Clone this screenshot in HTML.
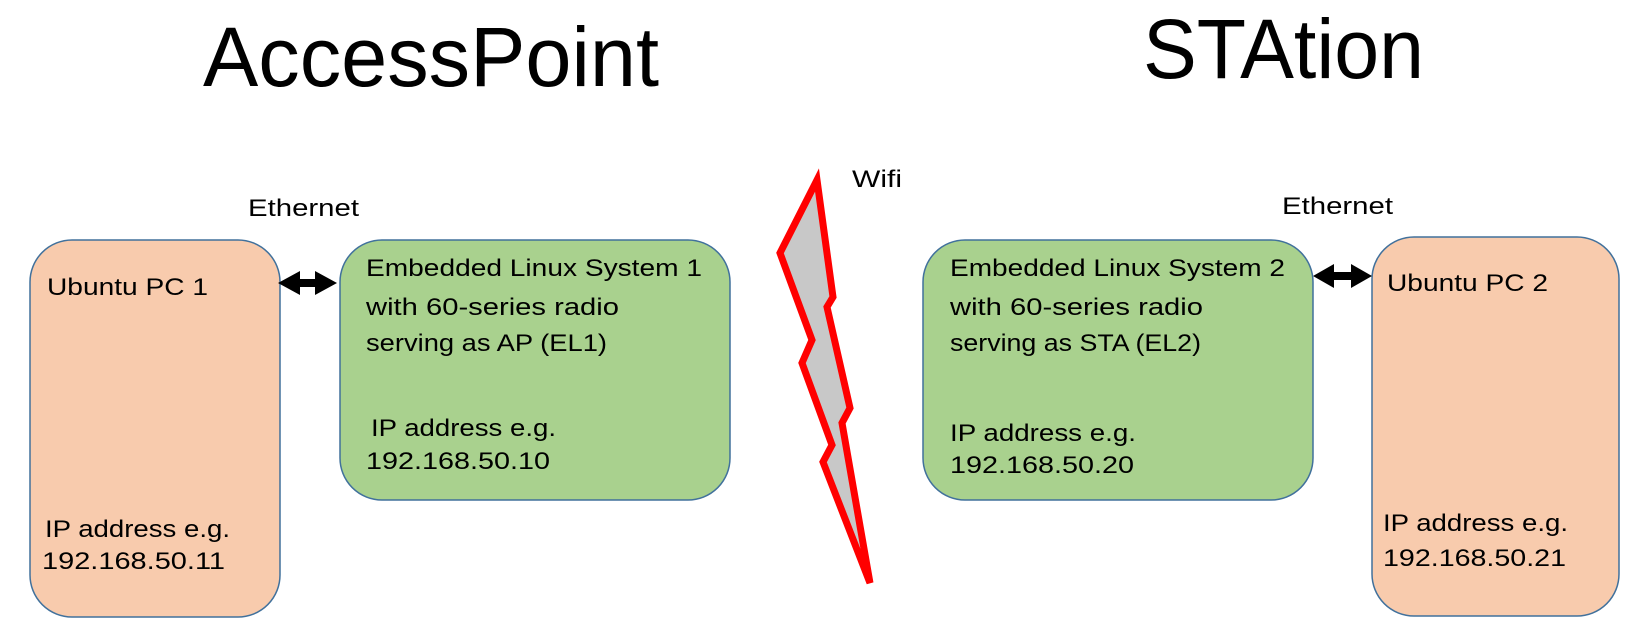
<!DOCTYPE html>
<html><head><meta charset="utf-8"><style>
html,body{margin:0;padding:0;background:#fff;width:1646px;height:623px;overflow:hidden}
text{font-family:"Liberation Sans",sans-serif;fill:#000}
</style></head><body>
<svg width="1646" height="623" viewBox="0 0 1646 623" xmlns="http://www.w3.org/2000/svg">
<text x="203" y="86" font-size="84" textLength="456" lengthAdjust="spacingAndGlyphs">AccessPoint</text>
<text x="1143" y="78" font-size="84" textLength="281" lengthAdjust="spacingAndGlyphs">STAtion</text>

<rect x="30" y="240" width="250" height="377" rx="42" fill="#f8cbad" stroke="#41719c" stroke-width="1.5"/>
<rect x="340" y="240" width="390" height="260" rx="42" fill="#a9d18e" stroke="#41719c" stroke-width="1.5"/>
<rect x="923" y="240" width="390" height="260" rx="42" fill="#a9d18e" stroke="#41719c" stroke-width="1.5"/>
<rect x="1372" y="237" width="247" height="379" rx="42" fill="#f8cbad" stroke="#41719c" stroke-width="1.5"/>

<polygon points="817,180 833,297 827,307 850,408 842,423 870,583 823,462 832,445 802,363 812,340 780,253" fill="#c8c8c8" stroke="#ff0000" stroke-width="7" stroke-linejoin="miter"/>

<g fill="#000">
<polygon points="278,283 300,271 300,279 315,279 315,271 337,283 315,295 315,287 300,287 300,295"/>
<polygon points="1313,276 1334,264 1334,272 1351,272 1351,264 1372,276 1351,288 1351,280 1334,280 1334,288"/>
</g>

<g font-size="24">
<text x="248" y="216" textLength="111" lengthAdjust="spacingAndGlyphs">Ethernet</text>
<text x="852" y="187" textLength="50" lengthAdjust="spacingAndGlyphs">Wifi</text>
<text x="1282" y="214" textLength="111" lengthAdjust="spacingAndGlyphs">Ethernet</text>

<text x="47" y="295" textLength="161" lengthAdjust="spacingAndGlyphs">Ubuntu PC 1</text>
<text x="45" y="537" textLength="185" lengthAdjust="spacingAndGlyphs">IP address e.g.</text>
<text x="42" y="569" textLength="183" lengthAdjust="spacingAndGlyphs">192.168.50.11</text>

<text x="366" y="276" textLength="336" lengthAdjust="spacingAndGlyphs">Embedded Linux System 1</text>
<text x="366" y="315" textLength="253" lengthAdjust="spacingAndGlyphs">with 60-series radio</text>
<text x="366" y="351" textLength="241" lengthAdjust="spacingAndGlyphs">serving as AP (EL1)</text>
<text x="371" y="436" textLength="185" lengthAdjust="spacingAndGlyphs">IP address e.g.</text>
<text x="366" y="469" textLength="184" lengthAdjust="spacingAndGlyphs">192.168.50.10</text>

<text x="950" y="276" textLength="335" lengthAdjust="spacingAndGlyphs">Embedded Linux System 2</text>
<text x="950" y="315" textLength="253" lengthAdjust="spacingAndGlyphs">with 60-series radio</text>
<text x="950" y="351" textLength="251" lengthAdjust="spacingAndGlyphs">serving as STA (EL2)</text>
<text x="950" y="441" textLength="186" lengthAdjust="spacingAndGlyphs">IP address e.g.</text>
<text x="950" y="473" textLength="184" lengthAdjust="spacingAndGlyphs">192.168.50.20</text>

<text x="1387" y="291" textLength="161" lengthAdjust="spacingAndGlyphs">Ubuntu PC 2</text>
<text x="1383" y="531" textLength="185" lengthAdjust="spacingAndGlyphs">IP address e.g.</text>
<text x="1383" y="566" textLength="183" lengthAdjust="spacingAndGlyphs">192.168.50.21</text>
</g>
</svg>
</body></html>
